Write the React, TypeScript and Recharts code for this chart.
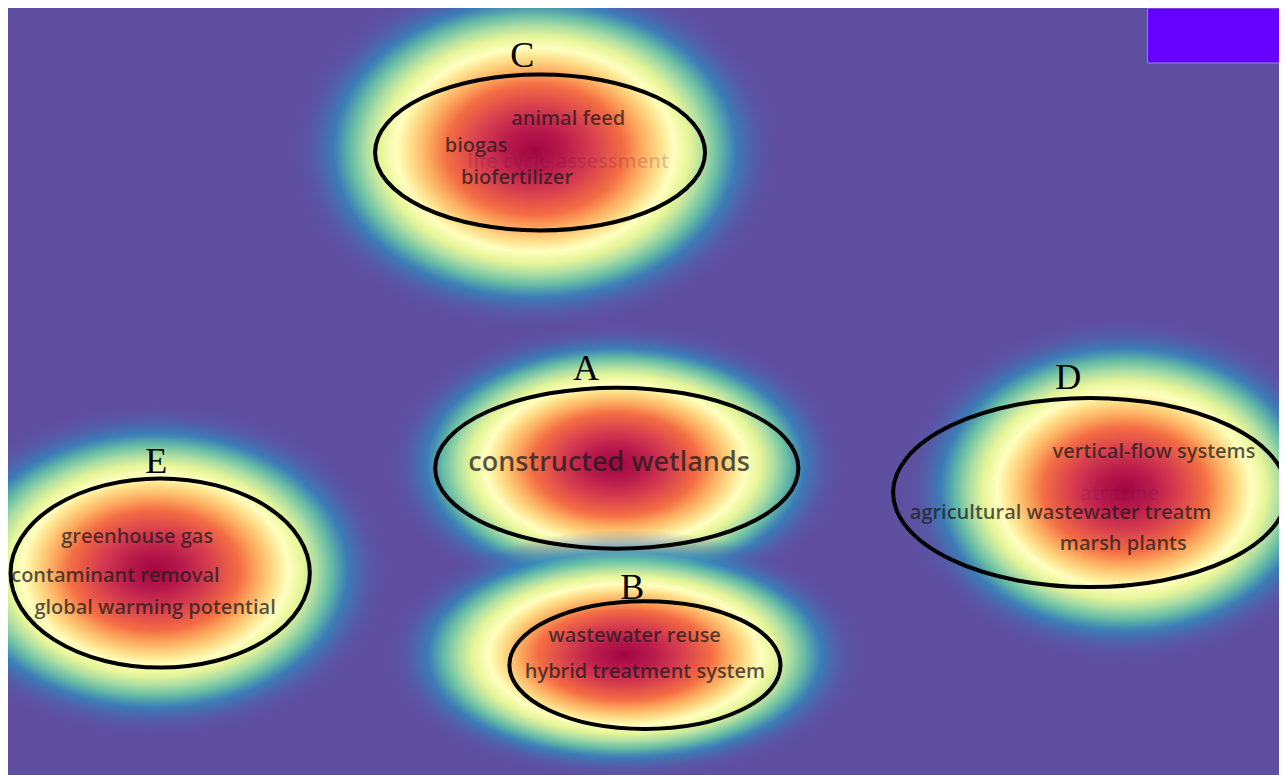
import { ScatterChart, Scatter, XAxis, YAxis, ReferenceArea } from "recharts";

// map coordinates: x 0..100 (left to right), y 0..60 (bottom to top)
const XMAX = 100;
const YMAX = 60;
const W = 1279;
const H = 767;

// clusters (outlined groups)
const clusters = ["A", "B", "C", "D", "E"];
const clusterX = [47.6, 49.8, 41.6, 84.6, 11.9];
const clusterY = [24.0, 8.6, 48.7, 22.1, 15.8];
const clusterRx = [14.2, 10.6, 12.9, 15.4, 11.7];
const clusterRy = [6.3, 5.0, 6.1, 7.4, 7.4];
const letterX = [45.2, 48.8, 40.2, 82.9, 11.6];
const letterY = [31.8, 14.7, 56.3, 31.1, 24.6];

// density peaks and their spread
const densityX = [47.5, 48.2, 41.2, 87.3, 11.5];
const densityY = [24.3, 9.4, 48.9, 22.3, 16.0];
const spreadX = [18.0, 18.8, 19.2, 17.6, 18.4];
const spreadY = [11.1, 9.8, 14.1, 13.5, 13.1];

// keywords
const terms = [
  "animal feed",
  "biogas",
  "life cycle assessment",
  "biofertilizer",
  "constructed wetlands",
  "wastewater reuse",
  "hybrid treatment system",
  "vertical-flow systems",
  "atrazine",
  "agricultural wastewater treatm",
  "marsh plants",
  "greenhouse gas",
  "contaminant removal",
  "global warming potential",
];
const termX = [43.8, 36.6, 43.8, 39.8, 47.0, 49.0, 49.8, 89.6, 86.9, 82.3, 87.2, 10.1, 8.4, 11.5];
const termY = [51.4, 49.3, 48.1, 46.8, 24.6, 11.0, 8.2, 25.4, 22.1, 20.6, 18.2, 18.7, 15.7, 13.2];
const termWeight = [1, 1, 1, 1, 2, 1, 1, 1, 1, 1, 1, 1, 1, 1];
const fadedTerms = ["life cycle assessment", "atrazine"];

const blobs = densityX.map((x, i) => ({ x, y: densityY[i], sx: spreadX[i], sy: spreadY[i] }));
const outlines = clusters.map((c, i) => ({
  x: clusterX[i],
  y: clusterY[i],
  rx: clusterRx[i],
  ry: clusterRy[i],
  name: c,
}));
const letters = clusters.map((c, i) => ({ x: letterX[i], y: letterY[i], name: c }));
const labels = terms.map((t, i) => ({ x: termX[i], y: termY[i], w: termWeight[i], name: t }));

const px = (v: number) => (v * W) / XMAX;
const py = (v: number) => (v * H) / YMAX;

const Blob = (p: any) => (
  <ellipse cx={p.cx} cy={p.cy} rx={px(p.payload.sx)} ry={py(p.payload.sy)} fill="url(#dens)" />
);

const Outline = (p: any) => (
  <ellipse
    cx={p.cx}
    cy={p.cy}
    rx={px(p.payload.rx)}
    ry={py(p.payload.ry)}
    fill="none"
    stroke="#000"
    strokeWidth={4}
  />
);

const Letter = (p: any) => (
  <text
    x={p.cx}
    y={p.cy}
    textAnchor="middle"
    dominantBaseline="central"
    fontFamily="'Liberation Serif', serif"
    fontSize={36}
    fill="#000"
  >
    {p.payload.name}
  </text>
);

const Term = (p: any) => {
  const faded = fadedTerms.includes(p.payload.name);
  return (
    <text
      x={p.cx}
      y={p.cy}
      textAnchor="middle"
      dominantBaseline="central"
      fontFamily="'Open Sans', sans-serif"
      fontSize={p.payload.w > 1 ? 27 : 20}
      fontWeight={600}
      fill={faded ? "#6a1a4a" : "#1c1c1c"}
      fillOpacity={faded ? 0.22 : 0.75}
    >
      {p.payload.name}
    </text>
  );
};

export default function App() {
  return (
    <div style={{ width: W, height: H, overflow: "hidden" }}>
      <ScatterChart width={W} height={H} margin={{ top: 0, right: 0, bottom: 0, left: 0 }}>
        <defs>
          <radialGradient id="dens" cx="50%" cy="50%" r="50%">
            <stop offset="0" stopColor="#a0063f" />
            <stop offset="0.12" stopColor="#b81a4c" />
            <stop offset="0.24" stopColor="#d73f4e" />
            <stop offset="0.36" stopColor="#f46d43" />
            <stop offset="0.44" stopColor="#fdae61" />
            <stop offset="0.51" stopColor="#fee08b" />
            <stop offset="0.565" stopColor="#ffffbf" />
            <stop offset="0.63" stopColor="#e6f598" />
            <stop offset="0.69" stopColor="#abdda4" />
            <stop offset="0.75" stopColor="#66c2a5" stopOpacity={0.95} />
            <stop offset="0.82" stopColor="#3288bd" stopOpacity={0.8} />
            <stop offset="0.91" stopColor="#4a68ae" stopOpacity={0.4} />
            <stop offset="1" stopColor="#5e4fa2" stopOpacity={0} />
          </radialGradient>
        </defs>
        <XAxis type="number" dataKey="x" domain={[0, XMAX]} hide />
        <YAxis type="number" dataKey="y" domain={[0, YMAX]} hide />
        <ReferenceArea x1={0} x2={XMAX} y1={0} y2={YMAX} fill="#5f4fa1" fillOpacity={1} stroke="none" />
        <ReferenceArea
          x1={89.1}
          x2={XMAX}
          y1={55.7}
          y2={YMAX}
          fill="#6600ff"
          fillOpacity={1}
          stroke="#8a8ac8"
          strokeWidth={1}
        />
        <Scatter data={blobs} shape={Blob} isAnimationActive={false} />
        <Scatter data={labels} shape={Term} isAnimationActive={false} />
        <Scatter data={outlines} shape={Outline} isAnimationActive={false} />
        <Scatter data={letters} shape={Letter} isAnimationActive={false} />
      </ScatterChart>
    </div>
  );
}
